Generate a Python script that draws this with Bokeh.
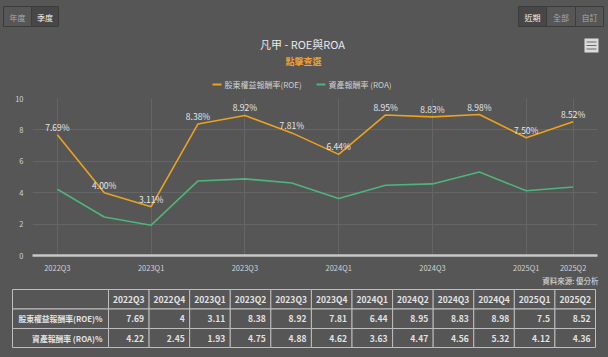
from bokeh.plotting import figure
from bokeh.layouts import column
from bokeh.models import Range1d, FixedTicker, LabelSet, ColumnDataSource
from bokeh.embed import file_html
from bokeh.resources import INLINE
from bokeh.core.properties import value

# ---------------- data ----------------
quarters = ["2022Q3", "2022Q4", "2023Q1", "2023Q2", "2023Q3", "2023Q4",
            "2024Q1", "2024Q2", "2024Q3", "2024Q4", "2025Q1", "2025Q2"]
roe = [7.69, 4, 3.11, 8.38, 8.92, 7.81, 6.44, 8.95, 8.83, 8.98, 7.5, 8.52]
roa = [4.22, 2.45, 1.93, 4.75, 4.88, 4.62, 3.63, 4.47, 4.56, 5.32, 4.12, 4.36]
x_tick_idx = [0, 2, 4, 6, 8, 10, 11]
y_ticks = [0, 2, 4, 6, 8, 10]
title_text = "凡甲 - ROE與ROA"
subtitle_text = "點擊查選"
roe_name = "股東權益報酬率(ROE)"
roa_name = "資產報酬率 (ROA)"
row_labels = ["股東權益報酬率(ROE)%", "資產報酬率 (ROA)%"]
source_text = "資料來源: 優分析"
left_buttons = ["年度", "季度"]
right_buttons = ["近期", "全部", "自訂"]

# ---------------- style ----------------
BG = "#565656"
FONT = "Noto Sans CJK TC"
ORANGE = "#eda21c"
GREEN = "#4fb47b"
TXT = "#d2d2d2"
W = 608


def blank(height, y0, y1):
    f = figure(width=W, height=height, x_range=Range1d(0, W), y_range=Range1d(y1, y0),
               output_backend="svg", toolbar_location=None,
               x_axis_location=None, y_axis_location=None,
               min_border=0, min_border_left=0, min_border_right=0,
               min_border_top=0, min_border_bottom=0, frame_align=False)
    f.grid.visible = False
    f.outline_line_color = None
    f.background_fill_color = BG
    f.border_fill_color = BG
    return f


# ---------------- header ----------------
hdr = blank(90, 0, 90)
# left button group
hdr.quad(left=[3, 31], right=[31, 58], top=[6, 6], bottom=[26, 26],
         fill_color=[BG, "#474747"], line_color="#3c3c3c", line_width=1)
hdr.text(x=[17, 44.5], y=[16.5, 16.5], text=left_buttons,
         text_color=["#a8a8a8", "#f2f2f2"], text_align="center", text_baseline="middle",
         text_font=value(FONT), text_font_size="8px")
# right button group
hdr.quad(left=[518, 546, 575], right=[546, 575, 603], top=[6, 6, 6], bottom=[26, 26, 26],
         fill_color=["#474747", BG, BG], line_color="#3c3c3c", line_width=1)
hdr.text(x=[532, 560.5, 589], y=[16.5, 16.5, 16.5], text=right_buttons,
         text_color=["#f2f2f2", "#a8a8a8", "#a8a8a8"], text_align="center", text_baseline="middle",
         text_font=value(FONT), text_font_size="8px")
# menu icon
hdr.quad(left=[584], right=[598], top=[38], bottom=[52], fill_color="#dcdcdc", line_color=None)
hdr.segment(x0=[586, 586, 586], x1=[596, 596, 596], y0=[41.5, 45, 48.5], y1=[41.5, 45, 48.5],
            line_color="#6a6a6a", line_width=1.2)
# title / subtitle
hdr.text(x=[302], y=[43], text=[title_text], text_align="center", text_baseline="middle",
         text_color="#e8e8e8", text_font=value(FONT), text_font_size="11px")
hdr.text(x=[303], y=[61], text=[subtitle_text], text_align="center", text_baseline="middle",
         text_color="#f0a030", text_font=value(FONT), text_font_size="9px", text_font_style="bold")
# legend
hdr.segment(x0=[212, 316], x1=[221, 325], y0=[84, 84], y1=[84, 84],
            line_color=[ORANGE, GREEN], line_width=2)
hdr.text(x=[224, 328], y=[84, 84], text=[roe_name, roa_name], text_align="left",
         text_baseline="middle", text_color=TXT, text_font=value(FONT), text_font_size="8px")

# ---------------- chart ----------------
ch = figure(width=W, height=185, x_range=Range1d(-0.53, 11.52), y_range=Range1d(0, 10),
            output_backend="svg", toolbar_location=None, frame_align=False,
            min_border_left=32, min_border_right=11, min_border_top=8, min_border_bottom=18)
ch.background_fill_color = BG
ch.border_fill_color = BG
ch.outline_line_color = None

ch.xaxis.ticker = FixedTicker(ticks=x_tick_idx)
ch.xaxis.major_label_overrides = {i: quarters[i] for i in x_tick_idx}
ch.xaxis.axis_line_color = "#c8c8c8"
ch.xaxis.axis_line_width = 2.5
ch.xaxis.major_tick_out = 0
ch.xaxis.major_tick_in = 0
ch.xaxis.minor_tick_out = 0
ch.xaxis.minor_tick_in = 0
ch.xaxis.major_label_standoff = 6
ch.xaxis.major_label_text_color = TXT
ch.xaxis.major_label_text_font = FONT
ch.xaxis.major_label_text_font_size = "7.5px"

ch.yaxis.ticker = FixedTicker(ticks=y_ticks)
ch.yaxis.axis_line_color = None
ch.yaxis.major_tick_out = 0
ch.yaxis.major_tick_in = 0
ch.yaxis.minor_tick_out = 0
ch.yaxis.minor_tick_in = 0
ch.yaxis.major_label_standoff = 9
ch.yaxis.major_label_text_color = TXT
ch.yaxis.major_label_text_font = FONT
ch.yaxis.major_label_text_font_size = "7.5px"

ch.xgrid.grid_line_color = "#656565"
ch.ygrid.grid_line_color = "#656565"

src = ColumnDataSource(dict(x=list(range(len(quarters))), roe=roe, roa=roa,
                            lbl=[f"{v:.2f}%" for v in roe]))
ch.line("x", "roa", source=src, line_color=GREEN, line_width=1.6)
ch.line("x", "roe", source=src, line_color=ORANGE, line_width=1.6)
ch.add_layout(LabelSet(x="x", y="roe", text="lbl", source=src, text_align="center",
                       text_baseline="bottom", y_offset=2, text_color="#e6e6e6",
                       text_font=value(FONT), text_font_size="8.5px"))

# ---------------- table ----------------
tbl = blank(82, 275, 357)
tbl.text(x=[598], y=[279.5], text=[source_text], text_align="right", text_baseline="middle",
         text_color="#e0e0e0", text_font=value(FONT), text_font_size="7.5px")

n = len(quarters)
tx0, tx1, first_w = 12, 595, 96
cw = (tx1 - tx0 - first_w) / n
col_l = [tx0] + [tx0 + first_w + i * cw for i in range(n)]
col_r = [tx0 + first_w] + [tx0 + first_w + (i + 1) * cw for i in range(n)]
row_t = [289, 308.5, 328]
row_b = [308.5, 328, 347]

ql, qr, qt, qb = [], [], [], []
for r in range(3):
    for c in range(n + 1):
        ql.append(col_l[c]); qr.append(col_r[c]); qt.append(row_t[r]); qb.append(row_b[r])
tbl.quad(left=ql, right=qr, top=qt, bottom=qb, fill_color=BG, line_color="#bdbdbd", line_width=1)

ymid = [(a + b) / 2 for a, b in zip(row_t, row_b)]
tbl.text(x=[(col_l[i + 1] + col_r[i + 1]) / 2 for i in range(n)], y=[ymid[0]] * n, text=quarters,
         text_align="center", text_baseline="middle", text_color="#e2e2e2",
         text_font=value(FONT), text_font_size="8.5px", text_font_style="bold")
tbl.text(x=[col_r[0] - 6] * 2, y=ymid[1:], text=row_labels,
         text_align="right", text_baseline="middle", text_color="#e2e2e2",
         text_font=value(FONT), text_font_size="7.8px", text_font_style="bold")
for series, yy in ((roe, ymid[1]), (roa, ymid[2])):
    tbl.text(x=[col_r[i + 1] - 5 for i in range(n)], y=[yy] * n, text=[f"{v:g}" for v in series],
             text_align="right", text_baseline="middle", text_color="#e2e2e2",
             text_font=value(FONT), text_font_size="8.5px", text_font_style="bold")

layout = column(hdr, ch, tbl, spacing=0)
layout.styles = {"background-color": BG}
html = file_html(layout, INLINE)
html = html.replace("<body>", '<body style="margin:0;background-color:%s;">' % BG, 1)
open("out.html", "w").write(html)
